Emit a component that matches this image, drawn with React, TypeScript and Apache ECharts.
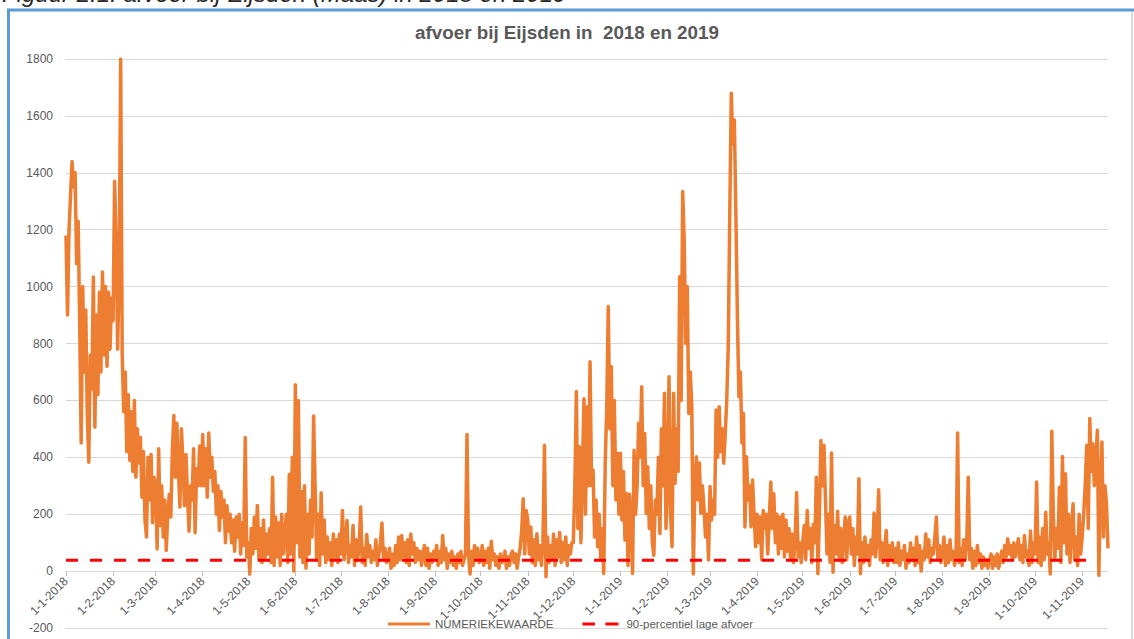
import React, { useEffect, useRef } from 'react';
import * as echarts from 'echarts';

// Daily discharge (m3/s), one array per month
const jan18 = [1180, 900, 1200, 1320, 1440, 1350, 1400, 1080, 1230, 880, 450, 1000, 700, 918, 555, 383, 760, 640, 1034, 506, 900, 620, 980, 700, 1051, 760, 1000, 720, 980, 780, 960];
const feb18 = [880, 1370, 1160, 780, 1050, 1800, 760, 560, 700, 420, 620, 390, 560, 350, 600, 330, 500, 380, 470, 260, 420, 180, 120, 400, 250, 410, 170, 330];
const mar18 = [300, 78, 430, 160, 300, 120, 250, 73, 200, 270, 190, 420, 547, 330, 520, 350, 225, 500, 380, 230, 410, 260, 140, 300, 250, 430, 135, 360, 300, 440, 300];
const apr18 = [480, 300, 430, 260, 485, 330, 400, 280, 350, 200, 300, 143, 280, 190, 250, 100, 230, 140, 200, 100, 180, 70, 190, 120, 200, 60, 170, 90, 470, 50];
const may18 = [100, -10, 150, 60, 190, 80, 231, 40, 150, 30, 180, 40, 130, 60, 150, 30, 330, 20, 190, 50, 170, 20, 200, 60, 120, 200, 30, 340, 60, 400, 0];
const jun18 = [655, 100, 600, 50, 280, 30, 300, 10, 200, 60, 250, 120, 545, 300, 40, 200, 20, 275, 60, 180, 30, 120, 40, 100, 20, 130, 50, 110, 30, 130];
const jul18 = [60, 213, 40, 100, 178, 30, 90, 50, 160, 20, 110, 40, 90, 225, 30, 80, 20, 129, 50, 90, 30, 70, 40, 110, 20, 60, 100, 169, 40, 80, 30];
const aug18 = [40, 80, 10, 60, 20, 90, 30, 120, 40, 125, 50, 100, 30, 110, 20, 130, 60, 100, 30, 80, 40, 70, 20, 60, 90, 20, 80, 10, 60, 30, 70];
const sep18 = [50, 90, 20, 70, 30, 125, 40, 80, 10, 60, 30, 70, 20, 50, 10, 60, 30, 70, 20, 40, 60, 480, 60, -10, 70, 20, 90, 40, 80, 30];
const oct18 = [40, 90, 20, 70, 30, 80, 10, 105, 40, 60, 20, 50, 10, 60, 30, 40, 70, 10, 50, 20, 60, 70, 30, 60, 10, 50, 80, 140, 254, 60, 213];
const nov18 = [180, 60, 155, 30, 110, 20, 131, 40, 90, 20, 100, 442, -20, 120, 30, 90, 40, 130, 20, 110, 50, 136, 30, 100, 40, 120, 20, 90, 60, 100];
const dec18 = [100, 300, 631, 150, 437, 100, 350, 606, 200, 578, 300, 736, 300, 355, 120, 250, 86, 200, 40, 150, -8, 380, 578, 930, 500, 719, 300, 600, 250, 414, 200];
const jan19 = [414, 180, 350, 109, 273, 20, 270, 150, -8, 425, 200, 300, 520, 400, 648, 300, 484, 203, 367, 150, 300, 100, 56, 250, 200, 400, 132, 500, 300, 625, 150];
const feb19 = [300, 683, 200, 86, 625, 308, 500, 350, 1035, 600, 1334, 1164, 800, 1000, 554, 700, 578, -10, 300, 402, 250, 380, 203, 300, 226, 120, 200, 39];
const mar19 = [297, 180, 250, 200, 566, 400, 578, 420, 500, 379, 480, 600, 789, 1258, 1680, 1500, 1586, 1258, 900, 613, 700, 450, 554, 155, 402, 250, 300, 156, 320, 200, 86];
const apr19 = [200, 100, 190, 40, 213, 150, 200, 60, 180, 313, 150, 272, 100, 200, 60, 190, 80, 200, 50, 180, 70, 150, 40, 130, 30, 110, 276, 50, 100, 30];
const may19 = [100, 160, 40, 213, 80, 150, 30, 165, 100, 330, -9, 200, 459, 300, 442, 250, 60, 200, 30, 415, -4, 160, 60, 210, 40, 150, 30, 120, 190, 40, 170];
const jun19 = [190, 60, 150, 20, 120, 60, 325, -9, 100, 30, 120, 40, 90, 20, 110, 60, 204, 50, 120, 286, 40, 100, 30, 80, 143, 20, 90, 40, 100, 30];
const jul19 = [80, 30, 100, 20, 70, 40, 90, 10, 60, 30, 100, 40, 80, 20, 120, 30, 90, 0, 70, 40, 130, 50, 110, 30, 80, 60, 120, 190, 40, 90, 30];
const aug19 = [60, 120, 20, 90, 30, 110, 40, 70, 20, 60, 485, 30, 80, 20, 110, 40, 100, 330, 40, 80, 10, 70, 20, 90, 30, 60, 10, 50, 20, 40, 10];
const sep19 = [40, 60, 10, 50, 20, 60, 10, 40, 70, 30, 90, 50, 114, 60, 90, 40, 100, 50, 80, 114, 40, 90, 30, 125, 50, 70, 20, 141, 30, 100];
const oct19 = [60, 313, 30, 120, 20, 150, 40, 207, 60, 100, -10, 492, 200, 40, 150, 80, 295, 30, 403, 100, 342, 60, 200, 30, 150, 237, 40, 120, 20, 200, 60];
const nov19 = [120, 200, 300, 442, 150, 536, 350, 448, 300, 400, 495, -15, 300, 454, 120, 300, 237, 80];

const flow: number[] = [
  ...jan18, ...feb18, ...mar18, ...apr18, ...may18, ...jun18,
  ...jul18, ...aug18, ...sep18, ...oct18, ...nov18, ...dec18,
  ...jan19, ...feb19, ...mar19, ...apr19, ...may19, ...jun19,
  ...jul19, ...aug19, ...sep19, ...oct19, ...nov19,
];

// Category labels: one per day, d-m-yyyy
const categories: string[] = [];
{
  const d = new Date(Date.UTC(2018, 0, 1));
  for (let i = 0; i < flow.length; i++) {
    categories.push(`${d.getUTCDate()}-${d.getUTCMonth() + 1}-${d.getUTCFullYear()}`);
    d.setUTCDate(d.getUTCDate() + 1);
  }
}

const percentile90 = 38;
const percentileEnd = '11-11-2019';
const percentileEndIdx = categories.indexOf(percentileEnd);
const thresholdData = categories.map((_, i) => (i <= percentileEndIdx ? percentile90 : null));

const yMin = -200;
const yMax = 1800;
const yStep = 200;

const seriesNames = ['NUMERIEKEWAARDE', '90-percentiel lage afvoer'];
const chartTitle = 'afvoer bij Eijsden in  2018 en 2019';
const captionText = 'Figuur 2.1: afvoer bij Eijsden (Maas) in 2018 en 2019';

const FONT = '"Liberation Sans", Arial, sans-serif';
const isMonthStart = (_i: number, v: string) => v.startsWith('1-');

// grid geometry
const GRID_TOP = 59;
const GRID_BOTTOM = 11;
const CHART_H = 639;
const zeroOffset = -((CHART_H - GRID_TOP - GRID_BOTTOM) * (0 - yMin)) / (yMax - yMin);

export default function App() {
  const ref = useRef<HTMLDivElement>(null);
  useEffect(() => {
    if (!ref.current) return;
    const chart = echarts.init(ref.current, null, { renderer: 'svg' });
    chart.setOption({
      animation: false,
      backgroundColor: '#ffffff',
      title: {
        text: chartTitle,
        left: 'center',
        top: 23,
        padding: 0,
        textStyle: { fontFamily: FONT, fontSize: 18.8, fontWeight: 'bold', color: '#595959' },
      },
      grid: { left: 66, right: 26, top: GRID_TOP, bottom: GRID_BOTTOM, containLabel: false, outerBoundsMode: 'none' },
      legend: {
        left: 383,
        top: 612,
        itemWidth: 42,
        itemHeight: 3,
        itemGap: 29,
        symbolKeepAspect: true,
        textStyle: { fontFamily: FONT, fontSize: 11.5, color: '#595959', lineHeight: 14 },
        data: [
          { name: seriesNames[0], icon: 'path://M0,0H42V3H0Z', itemStyle: { color: '#ED7D31' } },
          { name: seriesNames[1], icon: 'path://M0,0H12.5V3H0Z M23,0H36V3H23Z', itemStyle: { color: '#FF0000' } },
        ],
      },
      xAxis: {
        type: 'category',
        data: categories,
        boundaryGap: false,
        position: 'bottom',
        offset: zeroOffset,
        axisLine: { show: true, onZero: false, lineStyle: { color: '#d9d9d9', width: 1 } },
        axisTick: { show: true, interval: isMonthStart, length: 5, lineStyle: { color: '#bfbfbf' } },
        axisLabel: {
          interval: isMonthStart,
          rotate: 45,
          margin: 8,
          fontFamily: FONT,
          fontSize: 12,
          color: '#595959',
        },
        splitLine: { show: false },
      },
      yAxis: {
        type: 'value',
        min: yMin,
        max: yMax,
        interval: yStep,
        axisLine: { show: false },
        axisTick: { show: false },
        axisLabel: {
          fontFamily: FONT,
          fontSize: 12,
          color: '#595959',
          margin: 13,
          formatter: (v: number) => String(v),
        },
        splitLine: { lineStyle: { color: '#d9d9d9', width: 1 } },
      },
      series: [
        {
          name: seriesNames[0],
          type: 'line',
          data: flow,
          symbol: 'none',
          showSymbol: false,
          silent: true,
          lineStyle: { color: '#ED7D31', width: 3.5, join: 'round' },
          itemStyle: { color: '#ED7D31' },
        },
        {
          name: seriesNames[1],
          type: 'line',
          data: thresholdData,
          symbol: 'none',
          showSymbol: false,
          silent: true,
          lineStyle: { color: '#FF0000', width: 3, type: [12, 12] },
          itemStyle: { color: '#FF0000' },
        },
      ],
      graphic: [
        {
          type: 'text',
          left: 2,
          top: -19,
          style: {
            text: captionText,
            fontFamily: FONT,
            fontSize: 24,
            fontStyle: 'italic',
            fill: '#262626',
          },
        },
        {
          type: 'line',
          shape: { x1: 7, y1: 10, x2: 1134, y2: 10 },
          style: { stroke: '#5B9BD5', lineWidth: 3 },
        },
        {
          type: 'line',
          shape: { x1: 8.5, y1: 10, x2: 8.5, y2: 639 },
          style: { stroke: '#5B9BD5', lineWidth: 3 },
        },
        {
          type: 'line',
          shape: { x1: 1132, y1: 12, x2: 1132, y2: 639 },
          style: { stroke: '#d9d9d9', lineWidth: 2 },
        },
      ],
    });
    return () => chart.dispose();
  }, []);
  return <div ref={ref} style={{ position: 'fixed', left: 0, top: 0, width: 1134, height: 639 }} />;
}
